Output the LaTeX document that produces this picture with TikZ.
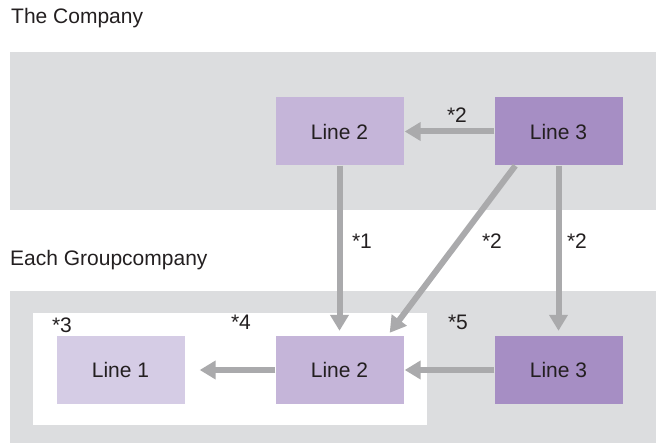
\documentclass[tikz,border=0pt]{standalone}
\usepackage{fontspec}
\setmainfont{Liberation Sans}
\usetikzlibrary{arrows.meta}

\definecolor{bandgray}{HTML}{DCDDDF}
\definecolor{arrowgray}{HTML}{AAAAAC}
\definecolor{txtgray}{HTML}{231F20}
\definecolor{lineone}{HTML}{D5CCE5}
\definecolor{linetwo}{HTML}{C5B5D9}
\definecolor{linethree}{HTML}{A68EC4}

\tikzset{
    linebox/.style = {minimum width=128pt, minimum height=68pt, inner sep=0pt, text=txtgray},
    flow/.style = {line width=6pt, draw=arrowgray, -{Triangle[width=18pt,length=16pt]}},
    mark label/.style = {text=txtgray, inner sep=0pt}
}

\begin{document}
\begin{tikzpicture}[x=1pt,y=-1pt,font=\fontsize{21}{25}\selectfont]
        \useasboundingbox (0,0) rectangle (656,443);

        %draw the gray bands and the white group area
        \fill[bandgray] (10,52) rectangle (656,210);
        \fill[bandgray] (10,291) rectangle (656,443);
        \fill[white] (33,313) rectangle (427,425);

        %titles of the bands
        \node[anchor=west, text=txtgray, inner sep=0pt] (company) at (11,18) {The Company};
        \node[anchor=west, text=txtgray, inner sep=0pt] (group) at (10,260) {Each Groupcompany};

        %the line boxes
        \node[linebox, fill=linetwo] (l2t) at (339.5,131.5) {Line 2};
        \node[linebox, fill=linethree] (l3t) at (558.5,131.5) {Line 3};
        \node[linebox, fill=lineone] (l1b) at (120.5,370) {Line 1};
        \node[linebox, fill=linetwo] (l2b) at (339.5,370) {Line 2};
        \node[linebox, fill=linethree] (l3b) at (558.5,370) {Line 3};

        %draw the arrows between the lines
        \draw[flow] (l3t.west) -- ([xshift=1pt]l2t.east);
        \draw[flow] (l2t.south) -- ([yshift=5pt]l2b.north);
        \draw[flow] ([xshift=21pt]l3t.south west) -- ([xshift=-14pt,yshift=3pt]l2b.north east);
        \draw[flow] (l3t.south) -- ([yshift=5pt]l3b.north);
        \draw[flow] (l2b.west) -- ([xshift=15pt]l1b.east);
        \draw[flow] (l3b.west) -- ([xshift=1pt]l2b.east);

        %labels on the arrows
        \node[mark label] (m2a) at (457,115) {*2};
        \node[mark label] (m1) at (362,241) {*1};
        \node[mark label] (m2b) at (492,241) {*2};
        \node[mark label] (m2c) at (577,241) {*2};
        \node[mark label] (m3) at (62,325) {*3};
        \node[mark label] (m4) at (241,322) {*4};
        \node[mark label] (m5) at (458,322) {*5};
    \end{tikzpicture}
\end{document}
